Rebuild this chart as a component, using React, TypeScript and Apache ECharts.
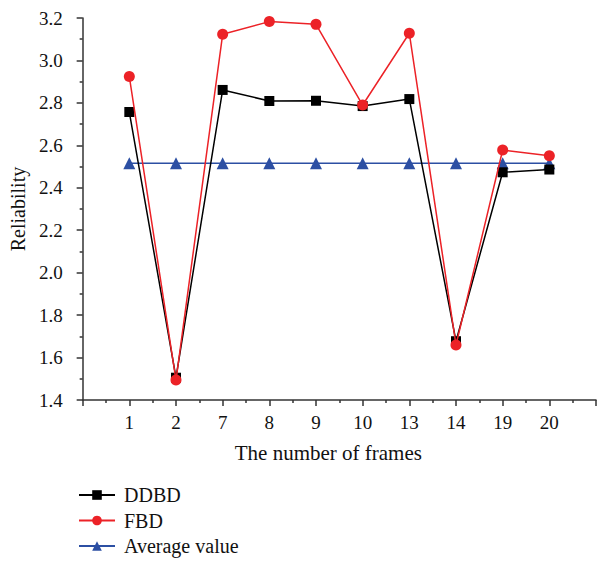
import React, { useEffect, useRef } from "react";
import * as echarts from "echarts";

const categories = ["1", "2", "7", "8", "9", "10", "13", "14", "19", "20"];
const ddbd = [2.757, 1.505, 2.861, 2.809, 2.81, 2.785, 2.818, 1.677, 2.473, 2.486];
const fbd = [2.924, 1.494, 3.123, 3.183, 3.17, 2.79, 3.128, 1.659, 2.578, 2.551];
const average = [2.515, 2.515, 2.515, 2.515, 2.515, 2.515, 2.515, 2.515, 2.515, 2.515];
const yTicks = [1.4, 1.6, 1.8, 2.0, 2.2, 2.4, 2.6, 2.8, 3.0, 3.2];

const FONT = "Liberation Serif";

export default function App() {
  const ref = useRef<HTMLDivElement>(null);
  useEffect(() => {
    if (!ref.current) return;
    const chart = echarts.init(ref.current, undefined, { renderer: "svg" });
    const toPairs = (arr: number[]) => arr.map((v, i) => [i + 1, v]);
    chart.setOption({
      animation: false,
      textStyle: { fontFamily: FONT },
      grid: { left: 79, right: 0, top: 18, bottom: 162 },
      xAxis: {
        type: "value",
        min: 0,
        max: 11,
        interval: 1,
        name: "The number of frames",
        nameLocation: "middle",
        nameGap: 42,
        nameTextStyle: { fontFamily: FONT, fontSize: 21, color: "#111", padding: [0, 22, 0, 0] },
        axisLine: { show: true, lineStyle: { color: "#333", width: 1.5 } },
        axisTick: { show: true, length: 6, lineStyle: { color: "#333", width: 1.5 } },
        minorTick: { show: true, splitNumber: 2, length: 3, lineStyle: { color: "#333", width: 1.5 } },
        splitLine: { show: false },
        axisLabel: {
          fontFamily: FONT,
          fontSize: 19,
          color: "#111",
          margin: 13,
          formatter: (v: number) => categories[v - 1] ?? "",
        },
      },
      yAxis: {
        type: "value",
        min: yTicks[0],
        max: yTicks[yTicks.length - 1],
        interval: 0.2,
        name: "Reliability",
        nameLocation: "middle",
        nameGap: 51,
        nameTextStyle: { fontFamily: FONT, fontSize: 20, color: "#111" },
        axisLine: { show: true, lineStyle: { color: "#333", width: 1.5 } },
        axisTick: { show: true, length: 6, lineStyle: { color: "#333", width: 1.5 } },
        minorTick: { show: true, splitNumber: 2, length: 3, lineStyle: { color: "#333", width: 1.5 } },
        splitLine: { show: false },
        axisLabel: {
          fontFamily: FONT,
          fontSize: 19,
          color: "#111",
          margin: 20,
          formatter: (v: number) => v.toFixed(1),
        },
      },
      legend: {
        orient: "vertical",
        left: 78,
        top: 485,
        padding: 0,
        height: 80,
        itemWidth: 36,
        itemHeight: 12,
        itemGap: 5.5,
        textStyle: { fontFamily: FONT, fontSize: 20, color: "#111", padding: [0, 0, 0, 4] },
        data: ["DDBD", "FBD", "Average value"],
      },
      series: [
        {
          name: "Average value",
          type: "line",
          data: toPairs(average),
          symbol: "triangle",
          symbolSize: 12,
          lineStyle: { color: "#2c4fa3", width: 1.5 },
          itemStyle: { color: "#2c4fa3" },
          z: 2,
        },
        {
          name: "DDBD",
          type: "line",
          data: toPairs(ddbd),
          symbol: "rect",
          symbolSize: 10,
          lineStyle: { color: "#000", width: 1.5 },
          itemStyle: { color: "#000" },
          z: 3,
        },
        {
          name: "FBD",
          type: "line",
          data: toPairs(fbd),
          symbol: "circle",
          symbolSize: 11,
          lineStyle: { color: "#ec2227", width: 1.5 },
          itemStyle: { color: "#ec2227" },
          z: 4,
        },
      ],
    });
    return () => chart.dispose();
  }, []);
  return <div ref={ref} style={{ width: 599, height: 562, position: "absolute", left: 0, top: 0 }} />;
}
